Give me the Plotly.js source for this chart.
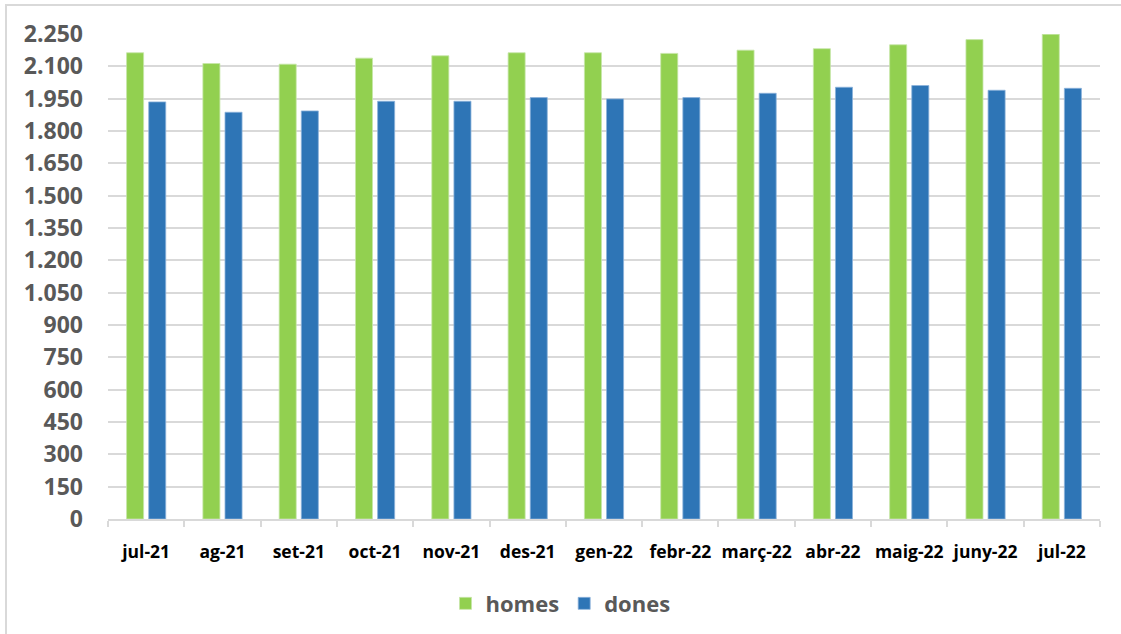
<!DOCTYPE html>
<html>
<head>
<meta charset="utf-8">
<script src="https://cdn.plot.ly/plotly-3.0.1.min.js"></script>
<style>
html,body{margin:0;padding:0;background:#fff;}
#chart{width:1121px;height:634px;}
#frame{position:absolute;left:5px;top:4px;width:1121px;height:640px;border-left:2px solid #d9d9d9;border-top:2px solid #d9d9d9;pointer-events:none;}
</style>
</head>
<body>
<div id="chart"></div>
<div id="frame"></div>
<script>
const months = ["jul-21","ag-21","set-21","oct-21","nov-21","des-21","gen-22","febr-22","març-22","abr-22","maig-22","juny-22","jul-22"];
const homes = [2163, 2113, 2110, 2138, 2149, 2163, 2163, 2160, 2175, 2182, 2200, 2224, 2249];
const dones = [1935, 1887, 1893, 1938, 1938, 1955, 1949, 1955, 1975, 2003, 2011, 1989, 1998];
const yTicks = [0,150,300,450,600,750,900,1050,1200,1350,1500,1650,1800,1950,2100,2250];

const data = [
  {type:"bar", name:"homes", x:months, y:homes, marker:{color:"#92d050", line:{color:"#c6e6a8", width:0.8}}},
  {type:"bar", name:"dones", x:months, y:dones, marker:{color:"#2e75b6", line:{color:"#8cb3db", width:0.8}}}
];

const layout = {
  width:1121, height:634,
  margin:{l:108, r:21, t:34, b:115, autoexpand:false},
  paper_bgcolor:"#fff", plot_bgcolor:"#fff",
  separators:",.",
  barmode:"group",
  bargap:0.42,
  bargroupgap:0.23,
  showlegend:true,
  legend:{orientation:"h", x:0.5, xref:"container", xanchor:"center", y:0.048, yref:"container", yanchor:"middle",
    font:{family:"Open Sans", size:22, color:"#595959", weight:"bold"}, itemwidth:30, tracegroupgap:0},
  xaxis:{type:"category", automargin:false, tickangle:0, showgrid:false, showline:true, linecolor:"#d9d9d9", linewidth:2,
    ticks:"outside", tickson:"boundaries", ticklen:6, tickcolor:"#d9d9d9", tickwidth:2,
    tickfont:{family:"Open Sans", size:17.5, color:"#000", weight:"bold"}, ticklabelstandoff:16},
  yaxis:{range:[0,2250], automargin:false, tickvals:yTicks, tickformat:",d", showgrid:true, gridcolor:"#d9d9d9", gridwidth:2,
    zeroline:false, showline:false, ticks:"", ticklabelstandoff:24,
    tickfont:{family:"Open Sans", size:23, color:"#595959", weight:"bold"}}
};

Plotly.newPlot("chart", data, layout, {displayModeBar:false, staticPlot:true});
</script>
</body>
</html>
